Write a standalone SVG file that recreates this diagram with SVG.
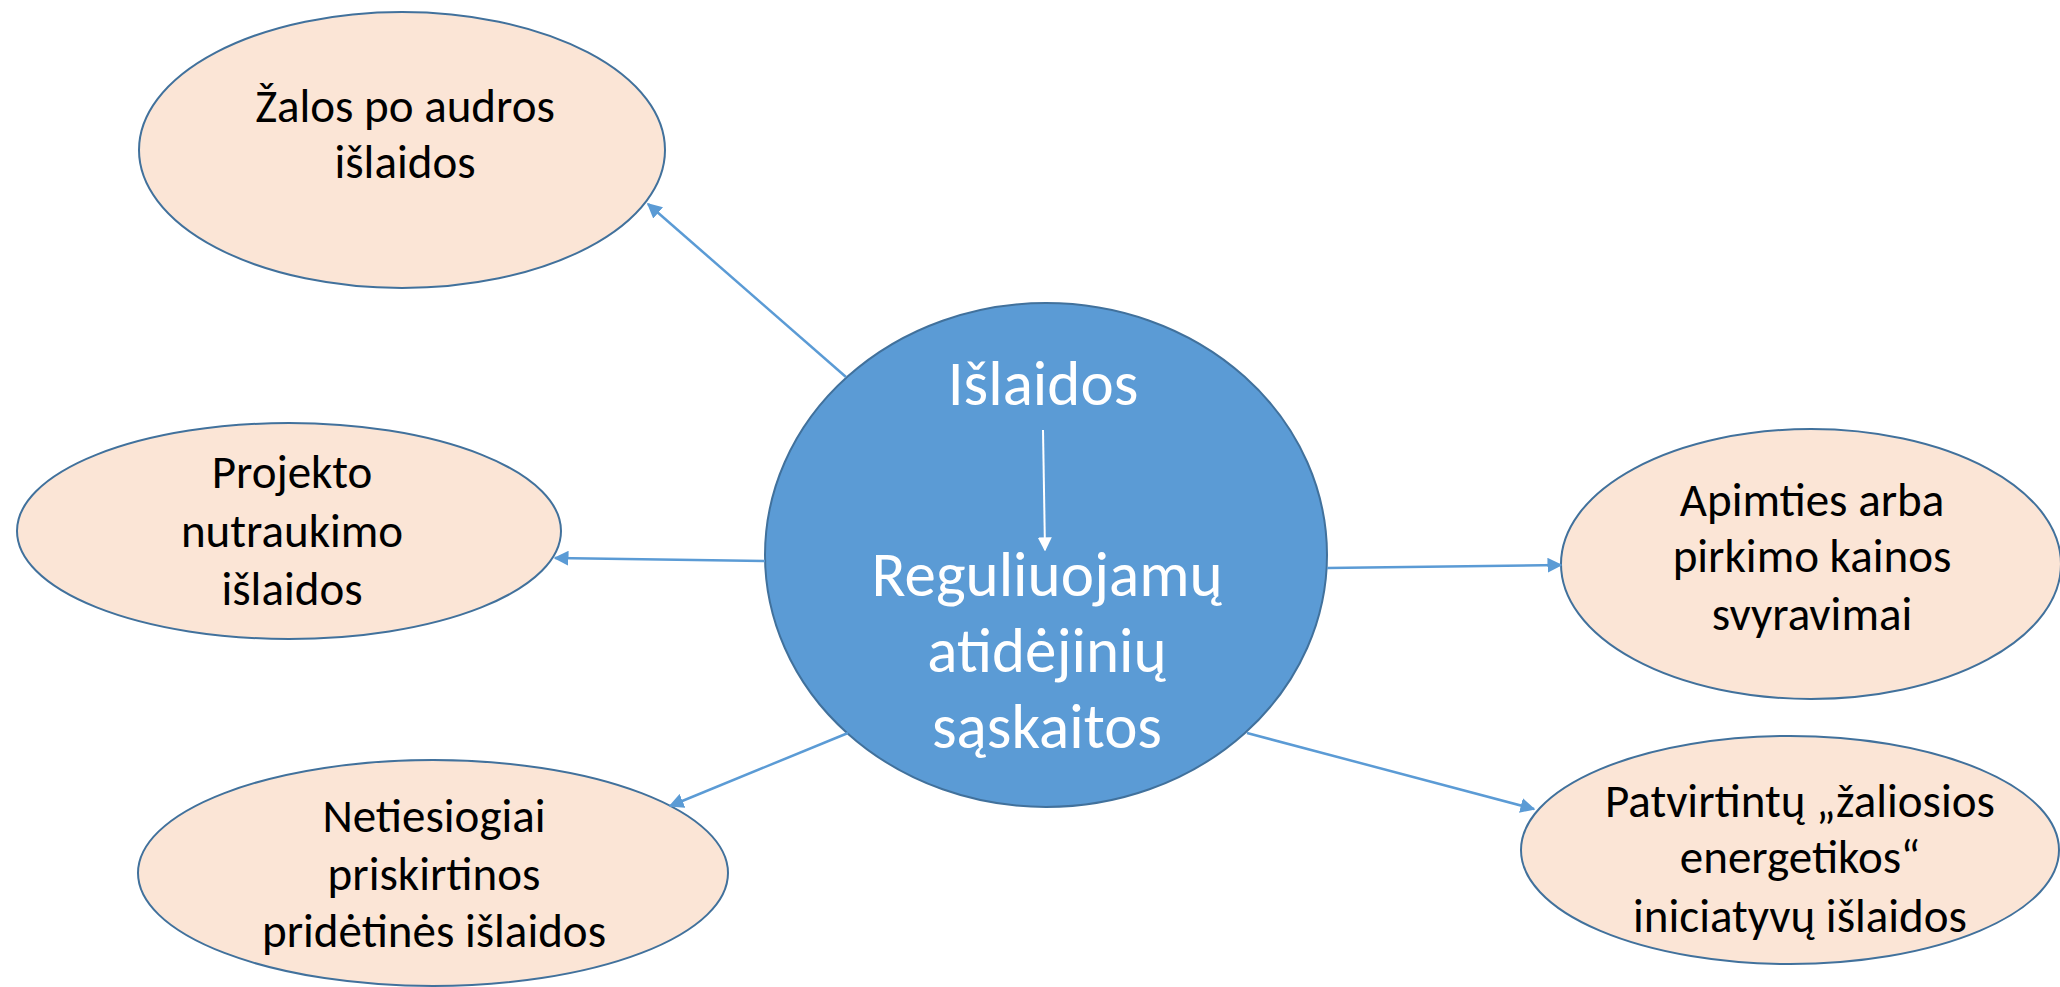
<svg xmlns="http://www.w3.org/2000/svg" width="2060" height="987" viewBox="0 0 2060 987">
<style>
.node{fill:#FBE5D6;stroke:#41719C;stroke-width:2}
.hub{fill:#5B9BD5;stroke:#41719C;stroke-width:2}
.t{font-family:Carlito,Lato,"Open Sans",sans-serif;font-size:47px;fill:#000;text-anchor:middle}
.ht{font-family:Carlito,Lato,"Open Sans",sans-serif;font-size:63px;fill:#fff;text-anchor:middle}
.c{stroke:#5B9BD5;stroke-width:2.5;fill:none;marker-end:url(#ab)}
.w{stroke:#fff;stroke-width:2;fill:none;marker-end:url(#aw)}
</style>
<defs>
<marker id="ab" viewBox="0 0 10 10" refX="9" refY="5" markerWidth="6" markerHeight="6" markerUnits="strokeWidth" orient="auto"><path d="M0,0 L10,5 L0,10 z" fill="#5B9BD5"/></marker>
<marker id="aw" viewBox="0 0 10 10" refX="9" refY="5" markerWidth="7" markerHeight="7" markerUnits="strokeWidth" orient="auto"><path d="M0,0 L10,5 L0,10 z" fill="#fff"/></marker>
</defs>
<rect width="2060" height="987" fill="#fff"/>
<g id="n-zalos"><ellipse class="node" cx="402" cy="150" rx="263" ry="138"/>
<text class="t" x="405" y="122">Žalos po audros</text><text class="t" x="405" y="178">išlaidos</text></g>
<g id="n-projekto"><ellipse class="node" cx="289" cy="531" rx="272" ry="108"/>
<text class="t" x="292" y="488">Projekto</text><text class="t" x="292" y="547">nutraukimo</text><text class="t" x="292" y="605">išlaidos</text></g>
<g id="n-netiesiogiai"><ellipse class="node" cx="433" cy="873" rx="295" ry="113"/>
<text class="t" x="434" y="832">Netiesiogiai</text><text class="t" x="434" y="890">priskirtinos</text><text class="t" x="434" y="947">pridėtinės išlaidos</text></g>
<g id="n-apimties"><ellipse class="node" cx="1811" cy="564" rx="250" ry="135"/>
<text class="t" x="1812" y="516">Apimties arba</text><text class="t" x="1812" y="572">pirkimo kainos</text><text class="t" x="1812" y="630">svyravimai</text></g>
<g id="n-patvirtintu"><ellipse class="node" cx="1790" cy="850" rx="269" ry="114"/>
<text class="t" x="1800" y="817">Patvirtintų „žaliosios</text><text class="t" x="1800" y="873">energetikos“</text><text class="t" x="1800" y="932">iniciatyvų išlaidos</text></g>
<g id="n-hub"><ellipse class="hub" cx="1046" cy="555" rx="281" ry="252"/>
<text class="ht" x="1043" y="405">Išlaidos</text><text class="ht" x="1047" y="596">Reguliuojamų</text><text class="ht" x="1047" y="672">atidėjinių</text><text class="ht" x="1047" y="748">sąskaitos</text></g>
<g id="connectors">
<line class="c" x1="846" y1="377" x2="648" y2="204"/>
<line class="c" x1="765" y1="561" x2="555" y2="558"/>
<line class="c" x1="848" y1="733" x2="670" y2="806"/>
<line class="c" x1="1327" y1="568" x2="1561" y2="565"/>
<line class="c" x1="1247" y1="733" x2="1534" y2="809"/>
<line class="w" x1="1043" y1="430" x2="1045" y2="550"/>
</g>
</svg>
